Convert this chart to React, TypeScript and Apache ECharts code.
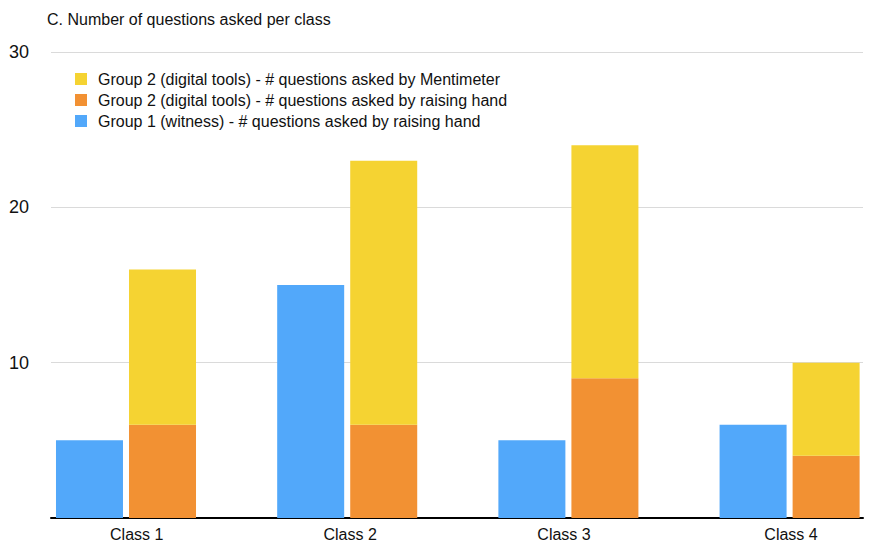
import React, { useEffect, useRef } from "react";
import * as echarts from "echarts";

const categories = ["Class 1", "Class 2", "Class 3", "Class 4"];
const group1Hand = [5, 15, 5, 6];
const group2Hand = [6, 6, 9, 4];
const group2Menti = [10, 17, 15, 6];
const yTicks = { min: 0, max: 30, interval: 10 };

const NAME_G1 = "Group 1 (witness) - # questions asked by raising hand";
const NAME_G2H = "Group 2 (digital tools) - # questions asked by raising hand";
const NAME_G2M = "Group 2 (digital tools) - # questions asked by Mentimeter";

const FONT = "Liberation Sans, Arial, Helvetica, sans-serif";
// horizontal nudge of each category label relative to its bar group (px)
const labelShift = [10.7, 2.9, -4.4, 1.4];

export default function App() {
  const ref = useRef<HTMLDivElement>(null);
  useEffect(() => {
    if (!ref.current) return;
    const chart = echarts.init(ref.current, null, { renderer: "svg" });
    const top = 52;
    const bottom = 34;
    const barCommon = {
      type: "bar",
      xAxisIndex: 1,
      yAxisIndex: 1,
      barWidth: 67,
      barGap: "9%",
      clip: false,
      z: 1,
    };
    const rich: Record<string, any> = {};
    labelShift.forEach((d, i) => {
      rich["c" + i] = {
        fontFamily: FONT,
        fontSize: 16,
        color: "#111",
        padding: d >= 0 ? [0, 0, 0, 2 * d] : [0, -2 * d, 0, 0],
      };
    });
    chart.setOption({
      animation: false,
      backgroundColor: "#ffffff",
      title: {
        text: "C. Number of questions asked per class",
        left: 42,
        top: 6,
        textStyle: { fontFamily: FONT, fontSize: 16, fontWeight: "normal", color: "#111" },
      },
      legend: {
        orient: "vertical",
        left: 70,
        top: 66,
        itemWidth: 12,
        itemHeight: 12,
        itemGap: 5,
        icon: "rect",
        data: [NAME_G2M, NAME_G2H, NAME_G1],
        textStyle: { fontFamily: FONT, fontSize: 16, color: "#111", padding: [0, 0, 0, 6] },
      },
      grid: [
        { left: 51, right: 12, top, bottom },
        { left: 126, right: 85.4, top, bottom },
      ],
      xAxis: [
        {
          type: "category",
          gridIndex: 0,
          data: categories,
          axisLine: { show: true, lineStyle: { color: "#000", width: 2 } },
          axisTick: { show: false },
          axisLabel: { show: false },
        },
        {
          type: "category",
          gridIndex: 1,
          data: categories,
          boundaryGap: false,
          axisLine: { show: false },
          axisTick: { show: false },
          axisLabel: {
            fontFamily: FONT,
            fontSize: 16,
            color: "#111",
            margin: 8,
            interval: 0,
            formatter: (v: string, i: number) => `{c${i}|${v}}`,
            rich,
          },
        },
      ],
      yAxis: [
        {
          type: "value",
          gridIndex: 0,
          min: yTicks.min,
          max: yTicks.max,
          interval: yTicks.interval,
          axisLine: { show: false },
          axisTick: { show: false },
          splitLine: { lineStyle: { color: "#dadada", width: 1 } },
          axisLabel: {
            showMinLabel: false,
            align: "left",
            margin: 42,
            fontFamily: FONT,
            fontSize: 18,
            color: "#111",
          },
        },
        {
          type: "value",
          gridIndex: 1,
          min: yTicks.min,
          max: yTicks.max,
          interval: yTicks.interval,
          show: false,
          splitLine: { show: false },
        },
      ],
      series: [
        { ...barCommon, name: NAME_G1, data: group1Hand, itemStyle: { color: "#52a8fa" } },
        { ...barCommon, name: NAME_G2H, stack: "g2", data: group2Hand, itemStyle: { color: "#f29133" } },
        { ...barCommon, name: NAME_G2M, stack: "g2", data: group2Menti, itemStyle: { color: "#f5d332" } },
      ],
    });
    return () => chart.dispose();
  }, []);
  return (
    <div
      ref={ref}
      style={{ position: "fixed", left: 0, top: 0, width: 875, height: 552 }}
    />
  );
}
